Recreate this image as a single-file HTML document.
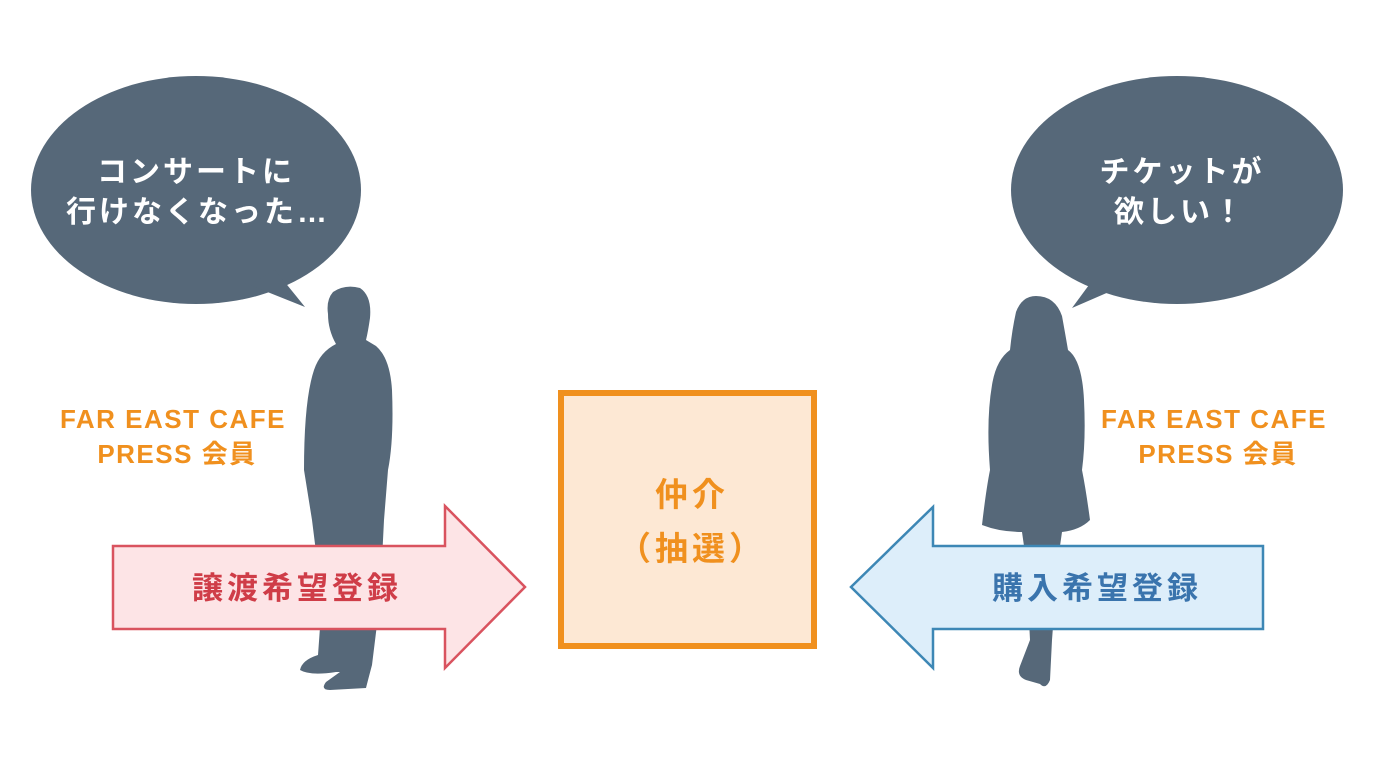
<!DOCTYPE html>
<html><head><meta charset="utf-8"><style>
html,body{margin:0;padding:0;background:#fff;}
svg{display:block;}
text{font-family:"Liberation Sans","Noto Sans CJK JP",sans-serif;font-weight:bold;}
</style></head><body>
<svg width="1373" height="769" viewBox="0 0 1373 769" xmlns="http://www.w3.org/2000/svg">
<rect width="1373" height="769" fill="#fff"/>
<g fill="#566879">
<ellipse cx="196" cy="190" rx="165" ry="114"/>
<path d="M250 285 L305 307 L275 270 Z"/>
<ellipse cx="1177" cy="190" rx="166" ry="114"/>
<path d="M1125 285 L1072 308 L1100 270 Z"/>
</g>
<g fill="#fff" font-size="30" text-anchor="middle" letter-spacing="3">
<text x="196" y="182">コンサートに</text>
<text x="198" y="222">行けなくなった…</text>
<text x="1182" y="182">チケットが</text>
<text x="1180" y="222">欲しい！</text>
</g>
<g fill="#566879">
<path d="M333 292 Q345 284 360 288 Q372 296 370 318 Q368 332 366 340 L376 346 Q390 358 392 390 Q394 440 388 470 L384 520 L380 600 L372 665 Q368 680 366 688 L330 690 Q320 690 326 682 L340 672 L336 672 Q310 676 300 670 Q302 660 318 655 L322 600 L312 520 L304 470 Q304 400 314 370 Q320 352 336 344 Q328 330 328 314 Q326 300 333 292Z"/>
<path d="M1036 296 Q1055 296 1062 316 Q1066 338 1068 350 Q1082 360 1084 400 Q1086 440 1082 470 Q1086 490 1090 520 Q1080 530 1062 532 L1058 560 L1052 640 L1050 680 Q1046 690 1040 684 L1026 680 Q1016 676 1020 666 L1030 640 L1026 560 L1022 532 Q1000 532 982 525 Q986 490 990 470 Q986 420 992 385 Q996 360 1010 350 Q1012 330 1016 312 Q1022 296 1036 296Z"/>
</g>
<g fill="#f0901e" font-size="26" text-anchor="middle" letter-spacing="1.5">
<text x="173" y="428">FAR EAST CAFE</text>
<text x="177" y="463">PRESS 会員</text>
<text x="1214" y="428">FAR EAST CAFE</text>
<text x="1218" y="463">PRESS 会員</text>
</g>
<path d="M113 546 L445 546 L445 506 L525 587 L445 668 L445 629 L113 629 Z" fill="#fde4e6" stroke="#d9535f" stroke-width="2.5"/>
<text x="297" y="599" fill="#cf3d48" font-size="31" text-anchor="middle" letter-spacing="4">譲渡希望登録</text>
<path d="M1263 546 L933 546 L933 507 L851 587 L933 668 L933 629 L1263 629 Z" fill="#ddeefa" stroke="#3d87b5" stroke-width="2.5"/>
<text x="1097" y="599" fill="#3a74ad" font-size="31" text-anchor="middle" letter-spacing="4">購入希望登録</text>
<rect x="561" y="393" width="253" height="253" fill="#fde8d4" stroke="#f0901e" stroke-width="6"/>
<g fill="#f0901e" font-size="33" text-anchor="middle" letter-spacing="4">
<text x="692" y="506">仲介</text>
<text x="692" y="560">（抽選）</text>
</g>
</svg>
</body></html>
